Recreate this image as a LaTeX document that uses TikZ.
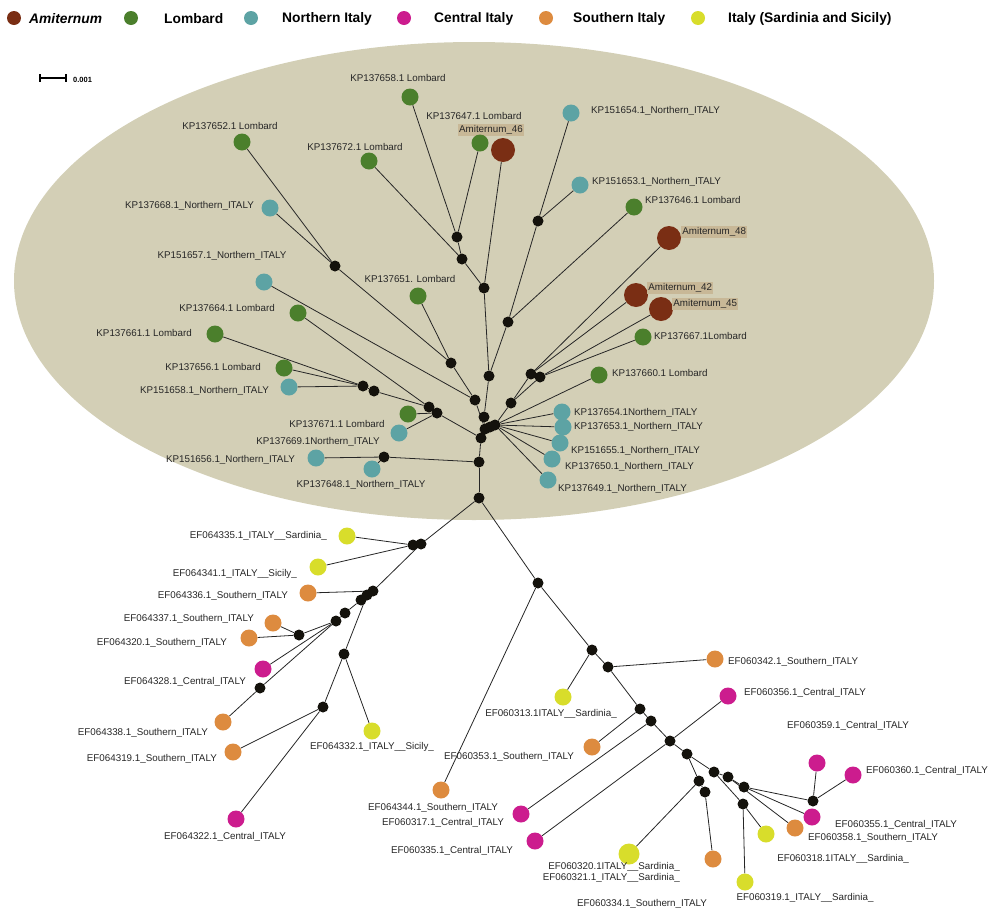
\documentclass[tikz,border=0pt]{standalone}
\usepackage{fontspec}
\setmainfont{Liberation Sans}
\usetikzlibrary{backgrounds}
\definecolor{AmitBrown}{HTML}{7A2E14}
\definecolor{LombGreen}{HTML}{4B7F2C}
\definecolor{NorthTeal}{HTML}{5DA3A4}
\definecolor{CentMagenta}{HTML}{CC1C8E}
\definecolor{SouthOrange}{HTML}{DD8B3F}
\definecolor{IslYellow}{HTML}{D8DD2B}
\definecolor{OvalTan}{HTML}{D3CFB6}
\definecolor{AmitTag}{HTML}{C8B897}
\definecolor{HubBlack}{HTML}{14120C}

\begin{document}
\begin{tikzpicture}[x=1pt,y=-1pt,
  hub/.style={circle,fill=HubBlack,inner sep=0pt,minimum size=11pt},
  leaf/.style={circle,fill=#1,inner sep=0pt,minimum size=17pt},
  amt/.style={circle,fill=AmitBrown,inner sep=0pt,minimum size=24pt},
  lab/.style={font=\fontsize{9.8}{11}\selectfont,inner sep=1pt,text=black!85},
  amlab/.style={lab,fill=AmitTag,inner sep=1.2pt},
  link/.style={draw=black!85,line width=.8pt},
  keytxt/.style={font=\fontsize{13.8}{15}\selectfont\bfseries,anchor=west,inner sep=0pt}]
\useasboundingbox (0,0) rectangle (989,911);
% legend
\foreach \n/\c/\x/\tx/\t in {am/AmitBrown/14/29/\textit{Amiternum},lo/LombGreen/131/164/Lombard,no/NorthTeal/251/282/Northern Italy,ce/CentMagenta/404/434/Central Italy,so/SouthOrange/546/573/Southern Italy,si/IslYellow/698/728/Italy (Sardinia and Sicily)}{
  \node[circle,fill=\c,minimum size=14pt,inner sep=0pt] (key\n) at (\x,18) {};
  \node[keytxt] (key\n-t) at (\tx,19) {\t};}
% scale bar
\coordinate (sbl) at (40,78); \coordinate (sbr) at (66,78);
\draw[line width=1.5pt] (sbl) -- (sbr);
\draw[line width=1.2pt] (40,74) -- (40,82) (66,74) -- (66,82);
\node[font=\fontsize{7.5}{9}\selectfont\bfseries,anchor=west,inner sep=0pt] (sbt) at (73,80) {0.001};
% median vectors
\foreach \n/\x/\y in {ua/457/237,ub/462/259,uc/484/288,ud/538/221,ue/508/322,uf/489/376,ug/531/374,uh/540/377,
  ui/511/403,uj/484/417,uk1/485/429,uk2/490/427,uk3/495/425,ul/335/266,um/451/363,un/475/400,uo/363/386,up/374/391,
  uq/429/407,ur/437/413,us/481/438,ut/384/457,uu/479/462,uv/479/498,
  la/413/545,lb/421/544,lc/373/591,ld/367/595,le/361/600,lf/345/613,lg/336/621,lh/299/635,li/260/688,lj/344/654,lk/323/707,
  ra/538/583,rb/592/650,rc/608/667,rd/640/709,re/651/721,rf/670/741,rg/687/754,rh/699/781,ri/705/792,rj/714/772,
  rk/728/777,rl/744/787,rm/743/804,rn/813/801}
  \node[hub] (\n) at (\x,\y) {};
% Amiternum haplotypes
\foreach \n/\x/\y/\an/\lx/\ly/\t in {a46/503/150/center/491/130/46,a48/669/238/west/681/232/48,a42/636/295/west/647/288/42,a45/661/309/west/672/304/45}{
  \node[amt] (\n) at (\x,\y) {};
  \node[amlab,anchor=\an] (\n-t) at (\lx,\ly) {Amiternum\_\t};}
% sequences
\foreach \n/\c/\x/\y/\an/\lx/\ly/\t in {
  k58/LombGreen/410/97/center/398/78/KP137658.1 Lombard,
  k47/LombGreen/480/143/center/474/116/KP137647.1 Lombard,
  k54/NorthTeal/571/113/west/590/111/KP151654.1\_Northern\_ITALY,
  k52/LombGreen/242/142/center/230/126/KP137652.1 Lombard,
  k72/LombGreen/369/161/center/355/147/KP137672.1 Lombard,
  k53b/NorthTeal/580/185/west/591/182/KP151653.1\_Northern\_ITALY,
  k46/LombGreen/634/207/west/644/200/KP137646.1 Lombard,
  k68/NorthTeal/270/208/east/255/206/KP137668.1\_Northern\_ITALY,
  k57/NorthTeal/264/282/center/222/256/KP151657.1\_Northern\_ITALY,
  k51/LombGreen/418/296/center/410/279/KP137651. Lombard,
  k64/LombGreen/298/313/east/276/308/KP137664.1 Lombard,
  k61/LombGreen/215/334/east/193/333/KP137661.1 Lombard,
  k56/LombGreen/284/368/east/262/367/KP137656.1 Lombard,
  k58b/NorthTeal/289/387/east/270/391/KP151658.1\_Northern\_ITALY,
  k71/LombGreen/408/414/center/337/424/KP137671.1 Lombard,
  k69/NorthTeal/399/433/center/318/442/KP137669.1Northern\_ITALY,
  k56b/NorthTeal/316/458/east/296/460/KP151656.1\_Northern\_ITALY,
  k48/NorthTeal/372/469/center/361/485/KP137648.1\_Northern\_ITALY,
  k67/LombGreen/643/337/west/653/336/KP137667.1Lombard,
  k60/LombGreen/599/375/west/611/373/KP137660.1 Lombard,
  k54n/NorthTeal/562/412/west/573/413/KP137654.1Northern\_ITALY,
  k53/NorthTeal/563/427/west/573/427/KP137653.1\_Northern\_ITALY,
  k55/NorthTeal/560/443/west/570/451/KP151655.1\_Northern\_ITALY,
  k50/NorthTeal/552/459/west/564/467/KP137650.1\_Northern\_ITALY,
  k49/NorthTeal/548/480/west/557/489/KP137649.1\_Northern\_ITALY,
  e35/IslYellow/347/536/east/328/536/EF064335.1\_ITALY\_\_Sardinia\_,
  e41/IslYellow/318/567/east/298/574/EF064341.1\_ITALY\_\_Sicily\_,
  e36/SouthOrange/308/593/east/289/596/EF064336.1\_Southern\_ITALY,
  e37/SouthOrange/273/623/east/255/619/EF064337.1\_Southern\_ITALY,
  e20/SouthOrange/249/638/east/228/643/EF064320.1\_Southern\_ITALY,
  e28/CentMagenta/263/669/east/247/682/EF064328.1\_Central\_ITALY,
  e38/SouthOrange/223/722/east/209/733/EF064338.1\_Southern\_ITALY,
  e19/SouthOrange/233/752/east/218/759/EF064319.1\_Southern\_ITALY,
  e22/CentMagenta/236/819/center/225/837/EF064322.1\_Central\_ITALY,
  e32/IslYellow/372/731/center/372/747/EF064332.1\_ITALY\_\_Sicily\_,
  e44/SouthOrange/441/790/center/433/808/EF064344.1\_Southern\_ITALY,
  f53/SouthOrange/592/747/center/509/757/EF060353.1\_Southern\_ITALY,
  f17/CentMagenta/521/814/center/443/823/EF060317.1\_Central\_ITALY,
  f35/CentMagenta/535/841/center/452/851/EF060335.1\_Central\_ITALY,
  f13/IslYellow/563/697/center/551/714/EF060313.1ITALY\_\_Sardinia\_,
  f42/SouthOrange/715/659/west/727/662/EF060342.1\_Southern\_ITALY,
  f56/CentMagenta/728/696/west/743/693/EF060356.1\_Central\_ITALY,
  f59/CentMagenta/817/763/center/848/726/EF060359.1\_Central\_ITALY,
  f60/CentMagenta/853/775/west/865/771/EF060360.1\_Central\_ITALY,
  f55/CentMagenta/812/817/center/896/825/EF060355.1\_Central\_ITALY,
  f58/SouthOrange/795/828/center/873/838/EF060358.1\_Southern\_ITALY,
  f18/IslYellow/766/834/center/843/859/EF060318.1ITALY\_\_Sardinia\_,
  f19/IslYellow/745/882/center/805/898/EF060319.1\_ITALY\_\_Sardinia\_,
  f34/SouthOrange/713/859/center/642/904/EF060334.1\_Southern\_ITALY}{
  \node[leaf=\c] (\n) at (\x,\y) {};
  \node[lab,anchor=\an] (\n-t) at (\lx,\ly) {\t};}
\node[leaf=IslYellow,minimum size=21pt] (f20) at (629,854) {};
\node[lab,align=right,anchor=north east,font=\fontsize{9.8}{11.5}\selectfont] (f20-t) at (681,861) {EF060320.1ITALY\_\_Sardinia\_\\EF060321.1\_ITALY\_\_Sardinia\_};
\begin{scope}[on background layer]
\fill[OvalTan] (474,281) ellipse [x radius=460pt,y radius=239pt];
\foreach \a/\b in {k58/ua,k47/ua,ua/ub,k72/ub,ub/uc,a46/uc,uc/uf,k54/ud,k53b/ud,ud/ue,k46/ue,ue/uf,uf/uj,uj/uk1,
  a48/ug,a42/ug,ug/uh,a45/uh,k67/uh,ui/ug,ui/uh,ui/uk3,k60/uk3,k54n/uk3,k53/uk3,k55/uk3,k50/uk3,k49/uk3,uk1/uk2,uk2/uk3,
  k52/ul,k68/ul,ul/um,k51/um,um/un,k57/un,un/uk1,k61/uo,k56/uo,k58b/uo,uo/up,up/uq,k64/uq,uq/ur,k71/ur,k69/ur,ur/us,
  us/uk1,us/uu,k56b/ut,k48/ut,ut/uu,uu/uv,
  uv/lb,la/lb,e35/la,e41/la,lb/lc,lc/ld,ld/le,le/lf,lf/lg,e36/lc,ld/lj,lj/lk,lj/e32,lk/e19,lk/e22,lg/lh,lh/e37,lh/e20,
  lg/e28,lg/li,li/e38,
  uv/ra,ra/e44,ra/rb,rb/f13,rb/rc,rc/f42,rc/rd,rd/f53,rd/re,re/f17,re/rf,rf/f56,rf/f35,rf/rg,rg/rh,rh/ri,rh/f20,ri/f34,
  rg/rj,rj/rk,rk/rl,rl/rn,rn/f59,rn/f60,rl/f55,rk/f58,rj/rm,rm/f18,rm/f19}
  \draw[link] (\a) -- (\b);
\end{scope}
\end{tikzpicture}
\end{document}
